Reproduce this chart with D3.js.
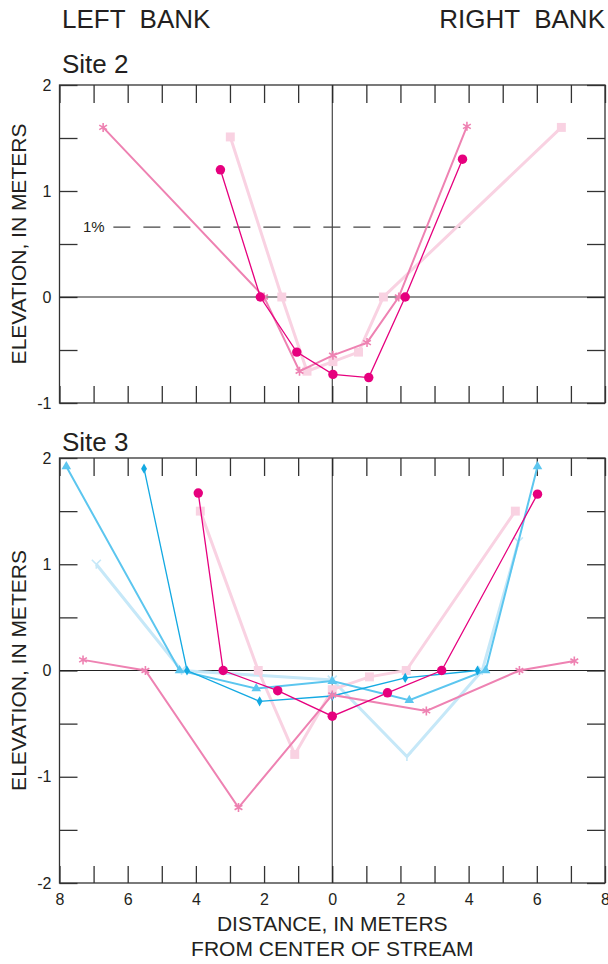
<!DOCTYPE html>
<html lang="en">
<head>
<meta charset="UTF-8">
<title>Stream cross sections</title>
<script src="https://cdn.jsdelivr.net/npm/d3@7"></script>
<style>
    body {margin: 0; background: white;}
    text {font-family: "Liberation Sans", Arial, sans-serif; fill: #231f20;}
    .frame {fill: none; stroke: #333; stroke-width: 1.3;}
    .tick line {stroke: #333; stroke-width: 1.3;}
    .zero {stroke: #222; stroke-width: 1;}
</style>
</head>
<body>
<div id="chart"></div>
<script>

    // site 2 -- distance from center (left bank negative), elevation in meters
    var s2DotX = [-3.28, -2.11, -1.04, 0.02, 1.07, 2.14, 3.82],
        s2DotY = [1.20, 0, -0.52, -0.73, -0.76, 0, 1.30];
    var s2StarX = [-6.72, -2.0, -0.96, 0.02, 1.02, 1.95, 3.95],
        s2StarY = [1.60, 0, -0.70, -0.55, -0.43, 0, 1.61];
    var s2SquareX = [-2.99, -1.48, -0.74, 0.02, 0.77, 1.5, 6.72],
        s2SquareY = [1.51, 0, -0.70, -0.61, -0.52, 0, 1.60];
    var floodLevel = 0.66, floodX = [-6.42, 3.98];

    // site 3
    var s3StarX = [-7.31, -5.48, -2.75, 0, 2.76, 5.49, 7.1],
        s3StarY = [0.10, 0, -1.29, -0.23, -0.38, 0, 0.09];
    var s3DotX = [-3.93, -3.2, -1.60, 0, 1.62, 3.21, 6.02],
        s3DotY = [1.67, 0, -0.19, -0.43, -0.21, 0, 1.66];
    var s3SquareX = [-3.87, -2.17, -1.10, 0, 1.09, 2.17, 5.37],
        s3SquareY = [1.50, 0, -0.79, -0.18, -0.06, 0, 1.50];
    var s3TriX = [-7.80, -4.48, -2.23, 0, 2.26, 4.5, 6.02],
        s3TriY = [1.92, 0, -0.17, -0.10, -0.28, 0, 1.92];
    var s3DiamondX = [-5.52, -4.26, -2.13, 0, 2.14, 4.26],
        s3DiamondY = [1.90, 0, -0.29, -0.24, -0.07, 0];
    var s3WyeX = [-6.92, -4.42, 0, 2.19, 4.4, 5.46],
        s3WyeY = [1.0, 0, -0.09, -0.81, 0, 1.21];

    var xTicks = d3.range(-8, 9),
        xLabels = [-8, -6, -4, -2, 0, 2, 4, 6, 8];

    var width = 608, height = 964;
    var left = 59.5, right = 605;

    var svg = d3.select("#chart").append("svg")
        .attr("width", width)
        .attr("height", height);

    var x = d3.scaleLinear().domain([-8, 8]).range([left, right]);

    function zip(xs, ys) { return xs.map(function(d, i) { return [d, ys[i]]; }); }

    // marker shapes
    var star = function(r) {
        var a = r * 0.866, b = r * 0.5;
        return "M0," + (-r) + "L0," + r + "M" + (-a) + "," + (-b) + "L" + a + "," + b +
               "M" + (-a) + "," + b + "L" + a + "," + (-b);
    };
    var wye = function(r) {
        return "M" + (-r) + "," + (-r) + "L0,0L" + r + "," + (-r) + "M0,0L0," + r;
    };

    function panel(top, bottom, yDomain, showX) {
        var y = d3.scaleLinear().domain(yDomain).range([bottom, top]);
        var g = svg.append("g");
        var yTicks = d3.range(yDomain[0], yDomain[1] + 0.01, 0.5);

        g.append("g").attr("transform", "translate(0," + bottom + ")")
            .call(d3.axisBottom(x).tickValues(xTicks).tickSizeInner(-17).tickSizeOuter(0).tickPadding(7)
                .tickFormat(function(d) { return showX && xLabels.indexOf(d) > -1 ? Math.abs(d) : ""; }))
            .call(function(a) { a.select(".domain").remove(); a.selectAll("text").attr("font-size", 16).attr("dy", "0.95em"); });
        g.append("g").attr("transform", "translate(0," + top + ")")
            .call(d3.axisTop(x).tickValues(xTicks).tickSizeInner(-18).tickSizeOuter(0).tickFormat(""))
            .call(function(a) { a.select(".domain").remove(); });
        g.append("g").attr("transform", "translate(" + left + ",0)")
            .call(d3.axisLeft(y).tickValues(yTicks).tickSizeInner(-18).tickSizeOuter(0).tickPadding(8)
                .tickFormat(function(d) { return d % 1 == 0 ? d : ""; }))
            .call(function(a) { a.select(".domain").remove(); a.selectAll("text").attr("font-size", 16); });
        g.append("g").attr("transform", "translate(" + right + ",0)")
            .call(d3.axisRight(y).tickValues(yTicks).tickSizeInner(-18).tickSizeOuter(0).tickFormat(""))
            .call(function(a) { a.select(".domain").remove(); });

        g.append("line").attr("class", "zero")
            .attr("x1", left).attr("x2", right).attr("y1", y(0)).attr("y2", y(0));
        g.append("line").attr("class", "zero")
            .attr("x1", x(0)).attr("x2", x(0)).attr("y1", top).attr("y2", bottom);
        g.append("rect").attr("class", "frame")
            .attr("x", left).attr("y", top).attr("width", right - left).attr("height", bottom - top);

        g.append("text")
            .attr("transform", "translate(26," + ((top + bottom) / 2) + ") rotate(-90)")
            .attr("text-anchor", "middle")
            .attr("font-size", 21)
            .text("ELEVATION, IN METERS");

        var line = d3.line().x(function(d) { return x(d[0]); }).y(function(d) { return y(d[1]); });

        function series(pts, color, lw, shape, size) {
            g.append("path").datum(pts)
                .attr("d", line)
                .attr("fill", "none")
                .attr("stroke", color)
                .attr("stroke-width", lw);
            var m = g.selectAll(null).data(pts).enter().append("path")
                .attr("transform", function(d) { return "translate(" + x(d[0]) + "," + y(d[1]) + ")"; });
            if (shape == "star" || shape == "wye") {
                m.attr("d", shape == "star" ? star(size) : wye(size))
                    .attr("fill", "none").attr("stroke", color).attr("stroke-width", 1.6);
            } else {
                m.attr("d", d3.symbol().type(shape).size(size)).attr("fill", color);
            }
        }
        return {g: g, y: y, series: series};
    }

    // site 2
    var p2 = panel(85, 403, [-1, 2], false);
    p2.g.append("line")
        .attr("x1", x(floodX[0])).attr("x2", x(floodX[1]))
        .attr("y1", p2.y(floodLevel)).attr("y2", p2.y(floodLevel))
        .attr("stroke", "#444").attr("stroke-width", 1.3).attr("stroke-dasharray", "17,13");
    p2.g.append("text")
        .attr("x", 83).attr("y", p2.y(floodLevel)).attr("dy", "0.35em")
        .attr("font-size", 15).text("1%");
    p2.series(zip(s2SquareX, s2SquareY), "#f9d2e2", 3, d3.symbolSquare, 80);
    p2.series(zip(s2StarX, s2StarY), "#ee82b2", 2, "star", 4.5);
    p2.series(zip(s2DotX, s2DotY), "#e6007e", 1.3, d3.symbolCircle, 70);

    // site 3
    var p3 = panel(458, 883, [-2, 2], true);
    p3.series(zip(s3WyeX, s3WyeY), "#c6e8f8", 3, "wye", 4.5);
    p3.series(zip(s3SquareX, s3SquareY), "#f9d2e2", 3, d3.symbolSquare, 80);
    p3.series(zip(s3TriX, s3TriY), "#5cc6ef", 2, d3.symbolTriangle, 40);
    p3.series(zip(s3DiamondX, s3DiamondY), "#13a9e2", 1.3, d3.symbolDiamond, 30);
    p3.series(zip(s3StarX, s3StarY), "#ee82b2", 2, "star", 4.5);
    p3.series(zip(s3DotX, s3DotY), "#e6007e", 1.3, d3.symbolCircle, 70);

    svg.append("text").attr("x", 62).attr("y", 28).attr("font-size", 26).text("LEFT  BANK").attr("xml:space", "preserve");
    svg.append("text").attr("x", 605).attr("y", 28).attr("font-size", 26).attr("text-anchor", "end")
        .attr("xml:space", "preserve").text("RIGHT  BANK");
    svg.append("text").attr("x", 62).attr("y", 73).attr("font-size", 26).text("Site 2");
    svg.append("text").attr("x", 62).attr("y", 451).attr("font-size", 26).text("Site 3");

    svg.append("text").attr("x", x(0)).attr("y", 931).attr("font-size", 21)
        .attr("text-anchor", "middle").text("DISTANCE, IN METERS");
    svg.append("text").attr("x", x(0)).attr("y", 956).attr("font-size", 21)
        .attr("text-anchor", "middle").text("FROM CENTER OF STREAM");

</script>
</body>
</html>
